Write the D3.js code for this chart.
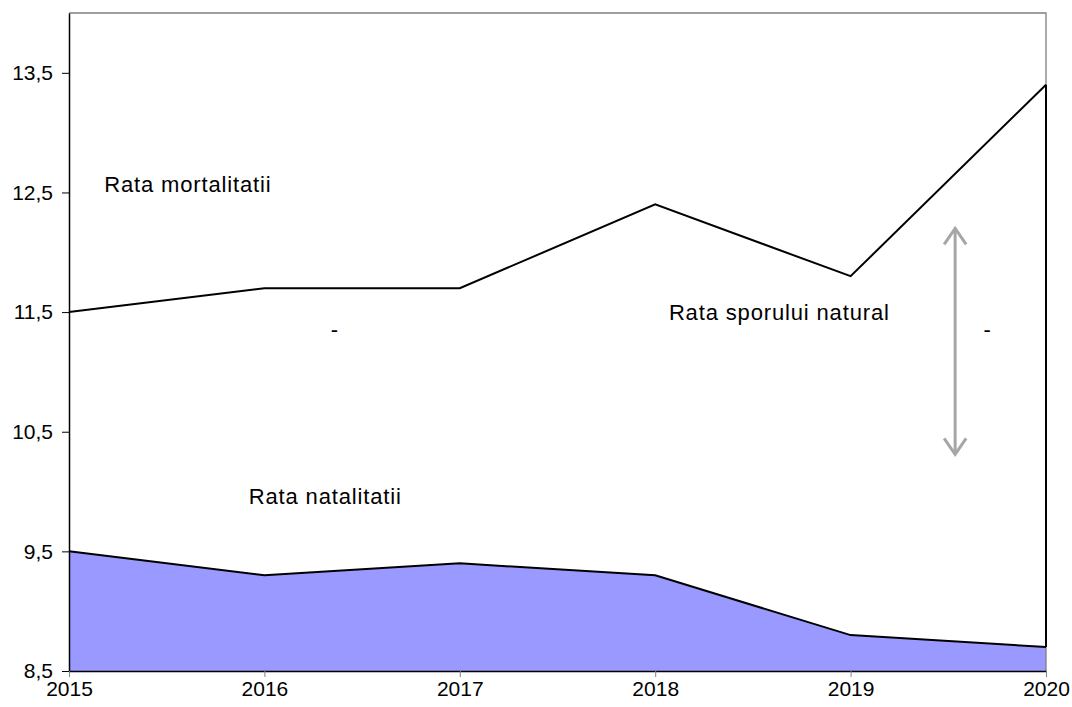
<!DOCTYPE html>
<html><head><meta charset="utf-8">
<script src="https://cdn.jsdelivr.net/npm/d3@7"></script>
<style>body{margin:0;background:#fff;} text{font-family:Arial,"Liberation Sans",sans-serif;}</style>
</head><body><svg id="c" width="1072" height="707"></svg>
<script>
const years = [2015, 2016, 2017, 2018, 2019, 2020];
const mortalitate = [11.5, 11.7, 11.7, 12.4, 11.8, 13.4];
const natalitate = [9.5, 9.3, 9.4, 9.3, 8.8, 8.7];
const yTicks = [8.5, 9.5, 10.5, 11.5, 12.5, 13.5];
const labels = [
  {text: "Rata mortalitatii", x: 2015.18, y: 12.5},
  {text: "Rata natalitatii", x: 2015.92, y: 9.9},
  {text: "Rata sporului natural", x: 2018.07, y: 11.43},
  {text: "-", x: 2016.34, y: 11.29},
  {text: "-", x: 2019.68, y: 11.29}
];
const arrow = {x: 2019.535, y1: 12.2, y2: 10.31};

const svg = d3.select("#c");
const x = d3.scaleLinear().domain([2015, 2020]).range([69, 1046]);
const y = d3.scaleLinear().domain([8.5, 14]).range([671, 13]);
const fmt = d => d3.format(".1f")(d).replace(".", ",");

const data = years.map((yr, i) => ({yr, m: mortalitate[i], n: natalitate[i]}));
svg.append("path").datum(data)
  .attr("fill", "#9999ff")
  .attr("d", d3.area().x(d => x(d.yr)).y0(y(8.5)).y1(d => y(d.n)));

svg.append("path")
  .attr("d", `M${x(2015)},${y(14)}H${x(2020)}V${y(8.5)}`)
  .attr("fill", "none").attr("stroke", "#808080").attr("stroke-width", 1.3);

svg.append("path").datum(data).attr("fill", "none").attr("stroke", "#000").attr("stroke-width", 2)
  .attr("d", d3.line().x(d => x(d.yr)).y(d => y(d.n)));
svg.append("path").datum(data).attr("fill", "none").attr("stroke", "#000").attr("stroke-width", 2)
  .attr("d", d3.line().x(d => x(d.yr)).y(d => y(d.m)));
const last = data[data.length - 1];
svg.append("line").attr("x1", x(last.yr)).attr("x2", x(last.yr))
  .attr("y1", y(last.m)).attr("y2", y(last.n))
  .attr("stroke", "#000").attr("stroke-width", 2);

const yAxis = svg.append("g").attr("transform", `translate(${x(2015)},0)`)
  .call(d3.axisLeft(y).tickValues(yTicks).tickFormat(fmt).tickSize(7).tickSizeOuter(0).tickPadding(9));
yAxis.select(".domain").attr("stroke", "#000").attr("stroke-width", 1.5);
yAxis.selectAll(".tick line").attr("stroke", "#000");
yAxis.selectAll("text").attr("font-size", 21).attr("fill", "#000").attr("font-family", "Arial, 'Liberation Sans', sans-serif");

const xAxis = svg.append("g").attr("transform", `translate(0,${y(8.5)})`)
  .call(d3.axisBottom(x).tickValues(years).tickFormat(d3.format("d")).tickSize(6).tickSizeOuter(0).tickPadding(4));
xAxis.select(".domain").attr("stroke", "#000").attr("stroke-width", 1.5);
xAxis.selectAll(".tick line").attr("stroke", "#808080");
xAxis.selectAll("text").attr("font-size", 21).attr("fill", "#000").attr("font-family", "Arial, 'Liberation Sans', sans-serif");

svg.selectAll("text.lbl").data(labels).enter().append("text").attr("class", "lbl")
  .attr("x", d => x(d.x)).attr("y", d => y(d.y))
  .attr("font-size", 22).attr("letter-spacing", 0.85).attr("fill", "#000")
  .text(d => d.text);

const ax = x(arrow.x), ay1 = y(arrow.y1), ay2 = y(arrow.y2);
const ag = svg.append("g").attr("stroke", "#a6a6a6").attr("stroke-width", 3).attr("fill", "none");
ag.append("line").attr("x1", ax).attr("x2", ax).attr("y1", ay1 + 1).attr("y2", ay2 - 1);
ag.append("path").attr("d", `M${ax-11},${ay1+16}L${ax},${ay1}L${ax+11},${ay1+16}`);
ag.append("path").attr("d", `M${ax-11},${ay2-16}L${ax},${ay2}L${ax+11},${ay2-16}`);
</script></body></html>
